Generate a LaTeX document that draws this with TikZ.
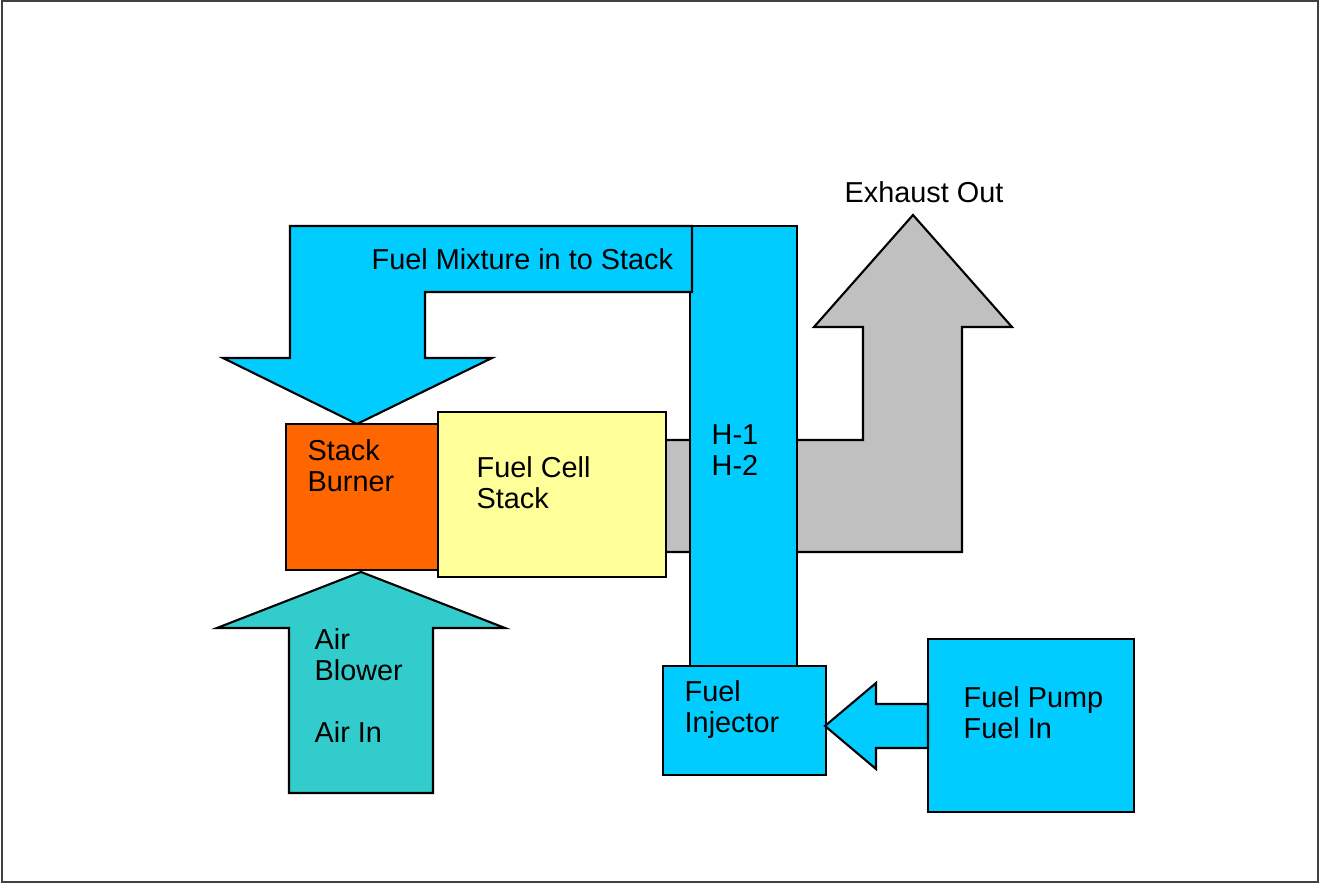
\documentclass[tikz,border=0pt]{standalone}
\usepackage{fontspec}
\setmainfont{Liberation Sans}
\definecolor{fuelblue}{HTML}{00CCFF}
\definecolor{burnerorange}{HTML}{FF6600}
\definecolor{stackyellow}{HTML}{FFFF99}
\definecolor{exhaustgray}{HTML}{C0C0C0}
\definecolor{airteal}{HTML}{33CCCC}
\tikzset{
  part/.style={draw=black, line width=0.6pt, line join=miter},
  lbl/.style={anchor=north west, inner sep=0pt, align=left, font=\fontsize{8.2}{8.8}\selectfont},
}
\begin{document}
\begin{tikzpicture}[x=0.01cm, y=-0.01cm]
	\useasboundingbox (0,0) rectangle (1320,883);
	\draw[darkgray, line width=0.6pt] (2,1) rectangle (1318,882);

	% exhaust
	\filldraw[part, fill=exhaustgray] (665,440) -- (863,440) -- (863,327) -- (814,327) -- (913,215)
		-- (1012,327) -- (962,327) -- (962,552) -- (665,552) -- cycle;
	\node[lbl] (exhaust) at (844,181) {Exhaust Out};

	% stack and burner
	\filldraw[part, fill=stackyellow] (438,412) rectangle (666,577);
	\node[lbl] (stack) at (476,456) {Fuel Cell\\Stack};
	\filldraw[part, fill=fuelblue] (690,226) rectangle (797,666);
	\node[lbl] (heat) at (711,424) {H-1\\H-2};
	\filldraw[part, fill=fuelblue] (290,226) -- (692,226) -- (692,292) -- (425,292) -- (425,358)
		-- (492,358) -- (357,424) -- (223,358) -- (290,358) -- cycle;
	\node[lbl] (mixture) at (371,248) {Fuel Mixture in to Stack};
	\filldraw[part, fill=burnerorange] (286,424) rectangle (438,570);
	\node[lbl] (burner) at (307,439) {Stack\\Burner};

	% air
	\filldraw[part, fill=airteal] (361,572) -- (505,628) -- (433,628) -- (433,793) -- (289,793)
		-- (289,628) -- (217,628) -- cycle;
	\node[lbl] (air) at (314,628) {Air\\Blower\\[8.8pt]Air In};

	% fuel in
	\filldraw[part, fill=fuelblue] (663,666) rectangle (826,775);
	\node[lbl] (injector) at (684,680) {Fuel\\Injector};
	\filldraw[part, fill=fuelblue] (928,639) rectangle (1134,812);
	\node[lbl] (pump) at (963,686) {Fuel Pump\\Fuel In};
	\filldraw[part, fill=fuelblue] (825,726) -- (876,683) -- (876,704) -- (928,704) -- (928,748)
		-- (876,748) -- (876,769) -- cycle;
\end{tikzpicture}
\end{document}
